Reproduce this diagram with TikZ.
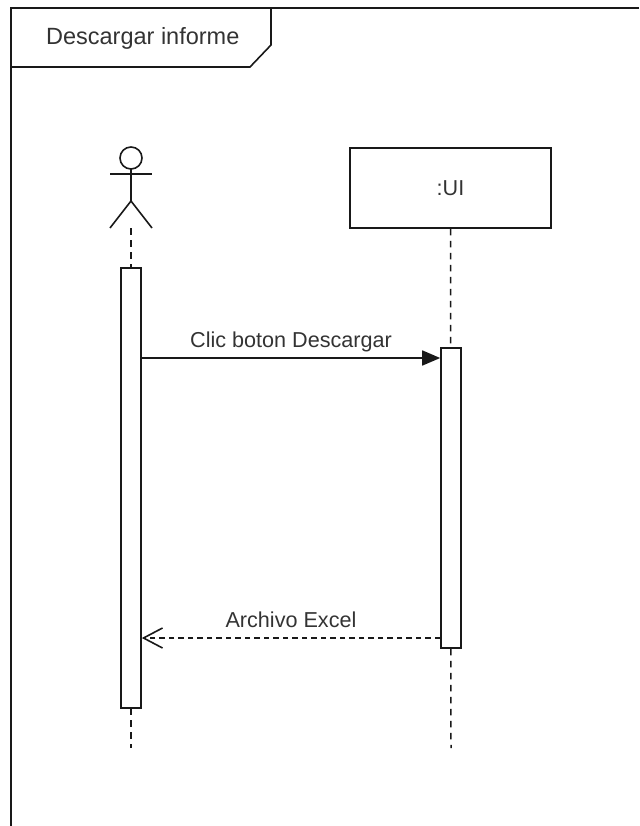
\documentclass[tikz,border=0pt]{standalone}
\usepackage{fontspec}
\setmainfont{Liberation Sans}
\usetikzlibrary{arrows.meta,positioning}

\tikzset{
    bar/.style={draw, fill=white, line width=1.6pt, minimum width=20pt, inner sep=0pt},
    lifeline/.style={line width=1.5pt, dash pattern=on 6.5pt off 5.5pt},
    msgtext/.style={text=black!80, font=\fontsize{21.6}{26}\selectfont, anchor=base, yshift=10.5pt},
}

\begin{document}
\begin{tikzpicture}[x=1pt, y=-1pt, line width=1.6pt, draw=black!90]

    \useasboundingbox (0,0) rectangle (639,826);

    \draw (639,8) -- (11,8) -- (11,826);
    \draw (271,8) -- (271,45) -- (250,67) -- (11,67);
    \node [anchor=base west, text=black!80, font=\fontsize{23.5}{28}\selectfont]
        (frametitle) at (42,45) {Descargar informe};

    \draw (131,158) circle (11);
    \draw (110,174) -- (152,174);
    \draw (131,169) -- (131,201) -- (110,228);
    \draw (131,201) -- (152,228);
    \coordinate (feet) at (131,228);

    \node [draw, line width=1.6pt, minimum width=201pt, minimum height=80pt,
        text=black!80, font=\fontsize{21.6}{26}\selectfont]
        (ui) at (450.5,188) {:UI};

    \coordinate (actorend) at (131,748);
    \coordinate (uiend) at (451,748);
    \draw [lifeline] (feet) -- (actorend);
    \draw [lifeline] (ui.south) -- (uiend);

    \node [bar, minimum height=440pt] (actorbar) at (131,488) {};
    \node [bar, minimum height=300pt] (uibar) at (451,498) {};

    \coordinate (clic) at (0,358);
    \coordinate (excel) at (0,638);

    \draw [-{Triangle[length=18pt, width=15pt]}] (actorbar.east |- clic)
        -- node [msgtext] {Clic boton Descargar} (uibar.west |- clic);
    \draw [dash pattern=on 5.5pt off 4pt, -{Straight Barb[length=19pt, width=20pt]}]
        (uibar.west |- excel)
        -- node [msgtext] {Archivo Excel} (actorbar.east |- excel);

\end{tikzpicture}
\end{document}
